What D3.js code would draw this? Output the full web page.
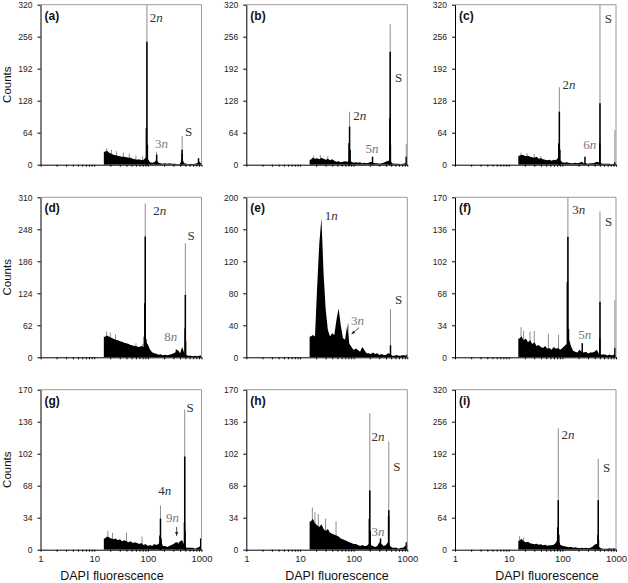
<!DOCTYPE html>
<html><head><meta charset="utf-8">
<script src="https://cdn.jsdelivr.net/npm/d3@7"></script>
<style>body{margin:0;background:#fff}svg{display:block}</style>
</head><body>
<svg id="chart" width="628" height="583"></svg>
<script>
// ---------- data ----------
const panelIds = ["a","b","c","d","e","f","g","h","i"];
const yMax = [320,320,320,310,200,170,170,170,320];
const ticks320 = [0,64,128,192,256,320];
const ticks310 = [0,62,124,186,248,310];
const ticks200 = [0,40,80,120,160,200];
const ticks170 = [0,34,68,102,136,170];
const yTickSets = [ticks320,ticks320,ticks320,ticks310,ticks200,ticks170,ticks170,ticks170,ticks320];
const xMajor = [1,10,100,1000];
const xMajorLabels = ["1","10","100","1000"];
const xMinor = [2,3,4,5,6,7,8,9,20,30,40,50,60,70,80,90,200,300,400,500,600,700,800,900];

// histogram body: counts in log-spaced bins starting at 10^1.18, step 0.04 decade
const binStartLog = 1.18, binStepLog = 0.04;
const bodyA = [26,28,24,22,20,19,18,17,16,16,15,14,14,12,11,10,11,9,10,14,12,5,4,5,10,4,3,2,3,2,3,2,2,2,1,2,12,3,2,1,2,1,2,3,6,2];
const bodyB = [10,14,12,13,11,14,12,10,12,9,11,8,6,7,5,6,7,6,8,6,4,5,4,5,3,4,3,4,6,4,3,3,2,3,4,6,8,8,3,2,2,2,1,2,3,2];
const bodyC = [18,20,19,17,18,16,15,14,16,12,13,11,10,9,10,8,10,9,14,9,5,4,5,4,3,3,4,3,4,6,3,3,2,3,3,4,6,5,3,2,2,2,2,1,2,2];
const bodyD = [40,42,40,38,36,34,33,31,30,28,27,26,24,23,22,21,20,22,20,30,25,15,10,8,7,5,6,4,5,4,5,6,8,10,14,8,20,8,4,3,3,2,3,2,3,4];
const bodyE = [26,28,26,88,142,174,105,59,34,26,30,28,47,61,40,24,22,40,17,13,9,11,9,7,13,9,5,5,4,6,4,5,3,4,3,3,5,4,2,2,3,2,2,3,2,4];
const bodyF = [20,22,18,20,16,18,14,16,12,13,11,10,12,9,10,8,11,9,10,8,10,12,14,20,12,7,6,5,8,6,5,6,4,5,5,6,8,4,3,3,3,2,3,2,3,3];
const bodyG = [12,14,13,12,11,12,10,11,9,10,9,8,9,7,8,7,6,7,5,6,4,5,4,6,5,6,10,4,4,3,4,5,6,8,6,9,10,5,2,2,2,2,1,2,3,8];
const bodyH = [30,33,28,26,24,27,22,20,22,18,17,16,15,14,12,11,10,9,8,7,6,6,5,4,5,4,4,6,5,4,3,4,8,6,4,5,8,4,2,2,2,1,2,2,4,6];
const bodyI = [18,22,17,15,16,13,12,11,12,10,11,9,10,8,9,9,10,14,24,10,8,7,6,5,6,4,5,4,3,4,3,4,3,4,6,10,12,6,3,2,2,2,3,2,3,2];
const bodies = [bodyA,bodyB,bodyC,bodyD,bodyE,bodyF,bodyG,bodyH,bodyI];

// narrow black peaks [fluorescence, count]
const peaksA = [[94,73],[96,246],[98,40],[146,20],[434,30],[437,22],[880,13]];
const peaksB = [[82,43],[84,76],[86,30],[225,16],[474,93],[480,226],[484,40],[955,16]];
const peaksC = [[86,43],[88,106],[90,30],[264,16],[498,43],[503,123],[955,5]];
const peaksD = [[86,40],[88,105],[89.5,234],[92,35],[340,15],[495,56],[500,121],[505,30]];
const peaksE = [[486,15]];
const peaksF = [[124,80],[127,128],[130,30],[235,15],[498,20],[503,59],[955,10]];
const peaksG = [[168,15],[172,33],[176,12],[351,8],[482,29],[487,99],[492,20],[967,12]];
const peaksH = [[196,33],[200,63],[204,20],[317,12],[448,36],[452,42],[960,8]];
const peaksI = [[82,45],[84,99],[86,30],[462,30],[467,99],[471,20]];
const peaks = [peaksA,peaksB,peaksC,peaksD,peaksE,peaksF,peaksG,peaksH,peaksI];

// thin grey spikes (single-channel maxima) [fluorescence, count]
const spikesA = [[96,320],[146,26],[436,57],[17,33],[21,30],[26,27],[35,24],[45,22],[60,18],[80,17]];
const spikesB = [[84,106],[480,281],[955,41],[18,18],[24,19],[33,17]];
const spikesC = [[88,155],[503,330],[955,69],[17,24],[22,23],[30,21],[40,17]];
const spikesD = [[89.5,298],[500,221],[17,50],[20,48],[25,44],[60,27],[80,26]];
const spikesE = [[79,42],[486,60]];
const spikesF = [[127,170],[503,155],[955,61],[17,32],[19,28],[25,27],[30,28],[55,25],[85,24]];
const spikesG = [[172,47],[487,149],[18,20],[22,18],[40,18],[78,14]];
const spikesH = [[200,145],[452,115],[17,45],[19,40],[22,38],[30,33],[47,30]];
const spikesI = [[84,243],[467,182],[16,27],[19,24]];
const spikes = [spikesA,spikesB,spikesC,spikesD,spikesE,spikesF,spikesG,spikesH,spikesI];

// annotations [digits, italic part, fluorescence, count, tone]
const notesA = [["2","n",109,285,"d"],["3","n",136,33,"l"],["S","",491,57,"d"]];
const notesB = [["2","n",98,89,"d"],["5","n",167,23,"l"],["S","",588,166,"d"]];
const notesC = [["2","n",101,151,"d"],["6","n",245,31,"l"],["S","",620,284,"d"]];
const notesD = [["2","n",126,276,"d"],["8","n",202,32,"l"],["S","",546,227,"d"]];
const notesE = [["1","n",29,172,"d"],["3","n",89,40,"l"],["S","",588,67,"d"]];
const notesF = [["3","n",153,152,"d"],["5","n",198,19,"l"],["S","",621,139,"d"]];
const notesG = [["4","n",156,58,"d"],["9","n",217,29,"l"],["S","",528,146,"d"]];
const notesH = [["2","n",216,116,"d"],["3","n",216,15,"l"],["S","",546,84,"d"]];
const notesI = [["2","n",97,222,"d"],["S","",570,155,"d"]];
const notes = [notesA,notesB,notesC,notesD,notesE,notesF,notesG,notesH,notesI];

// arrows [x1,c1,x2,c2]
const arrowsE = [[126,37,92,29]];
const arrowsG = [[344,24,344,15]];
const arrows = [[],[],[],[],arrowsE,[],arrowsG,[],[]];

// ---------- layout ----------
const colLeft = [40.5, 246.3, 455];
const rowTop = [4.7, 197.3, 389.7];
const pw = 161, ph = 160;
const xTitleCenter = [112, 337, 547];

const svg = d3.select("#chart");
const defs = svg.append("defs");
defs.append("marker").attr("id","arr").attr("viewBox","0 0 10 10")
  .attr("refX",9).attr("refY",5).attr("markerWidth",5).attr("markerHeight",5)
  .attr("orient","auto").append("path").attr("d","M0,1L10,5L0,9Z").attr("fill","#222");

const sans = "Arial, 'Liberation Sans', Helvetica, sans-serif";
const serif = "'Times New Roman', 'Liberation Serif', 'DejaVu Serif', serif";

panelIds.forEach((id, k) => {
  const col = k % 3, row = Math.floor(k / 3);
  const L = colLeft[col], T = rowTop[row];
  const g = svg.append("g").attr("transform", `translate(${L},${T})`);
  const x = d3.scaleLog().domain([1,1000]).range([0,pw]);
  const y = d3.scaleLinear().domain([0,yMax[k]]).range([ph,0]);

  defs.append("clipPath").attr("id","clip"+id).append("rect")
    .attr("x",0).attr("y",0).attr("width",pw).attr("height",ph);
  const plot = g.append("g").attr("clip-path",`url(#clip${id})`);

  // frame (top + right) grey
  g.append("path").attr("d",`M0,0H${pw}V${ph}`).attr("fill","none")
    .attr("stroke","#9a9a9a").attr("stroke-width",1);

  // grey spikes
  plot.selectAll("line.sp").data(spikes[k]).join("line")
    .attr("x1",d=>x(d[0])).attr("x2",d=>x(d[0]))
    .attr("y1",y(0)).attr("y2",d=>y(d[1]))
    .attr("stroke","#8d8d8d").attr("stroke-width",1);

  // body as a filled profile through bin centres
  const body = bodies[k];
  const n = body.length;
  const pts = [[Math.pow(10,binStartLog), body[0]]]
    .concat(body.map((v,i)=>[Math.pow(10,binStartLog+binStepLog*(i+0.5)), v]))
    .concat([[Math.pow(10,binStartLog+binStepLog*n), body[n-1]]]);
  const area = d3.area().x(d=>x(d[0])).y0(y(0)).y1(d=>y(d[1]));
  plot.append("path").datum(pts).attr("d",area).attr("fill","#000");

  // narrow peaks
  plot.selectAll("rect.p").data(peaks[k]).join("rect")
    .attr("x",d=>x(d[0])-0.75).attr("width",1.5)
    .attr("y",d=>y(d[1])).attr("height",d=>y(0)-y(d[1])).attr("fill","#000");

  // axes
  const yAxis = d3.axisLeft(y).tickValues(yTickSets[k]).tickSize(3).tickSizeOuter(0).tickPadding(5);
  const ya = g.append("g").call(yAxis);
  ya.selectAll("text").attr("font-family",sans).attr("font-size",8.5).attr("fill","#222");
  ya.select(".domain").attr("stroke","#000");

  const isBottom = row === 2;
  const xAxis = d3.axisBottom(x).tickValues(xMajor.concat(xMinor)).tickSize(2).tickSizeOuter(0).tickPadding(4)
    .tickFormat(d => isBottom && xMajor.includes(d) ? xMajorLabels[xMajor.indexOf(d)] : "");
  const xa = g.append("g").attr("transform",`translate(0,${ph})`).call(xAxis);
  xa.selectAll("text").attr("font-family",sans).attr("font-size",9.5).attr("fill","#222");
  xa.select(".domain").attr("stroke","#000");

  // panel letter
  g.append("text").attr("x",4).attr("y",15).attr("font-family",sans)
    .attr("font-weight","bold").attr("font-size",12).attr("fill","#111").text(`(${id})`);

  // annotations
  notes[k].forEach(nt => {
    const t = g.append("text").attr("x",x(nt[2])).attr("y",y(nt[3]))
      .attr("font-family",serif).attr("font-size",13)
      .attr("fill", nt[4]==="d" ? "#333" : "#7a7a7a");
    t.append("tspan").text(nt[0]);
    if (nt[1]) t.append("tspan").attr("font-style","italic").text(nt[1]);
  });

  arrows[k].forEach(a => {
    g.append("line").attr("x1",x(a[0])).attr("y1",y(a[1])).attr("x2",x(a[2])).attr("y2",y(a[3]))
      .attr("stroke","#222").attr("stroke-width",0.8).attr("marker-end","url(#arr)");
  });

  if (col === 0) {
    svg.append("text").attr("transform",`translate(11,${T+ph/2}) rotate(-90)`)
      .attr("text-anchor","middle").attr("font-family",sans).attr("font-size",11.5)
      .attr("fill","#111").text("Counts");
  }
  if (isBottom) {
    svg.append("text").attr("x",xTitleCenter[col]).attr("y",580).attr("text-anchor","middle")
      .attr("font-family",sans).attr("font-size",12.5).attr("fill","#111").text("DAPI fluorescence");
  }
});
</script>
</body></html>
